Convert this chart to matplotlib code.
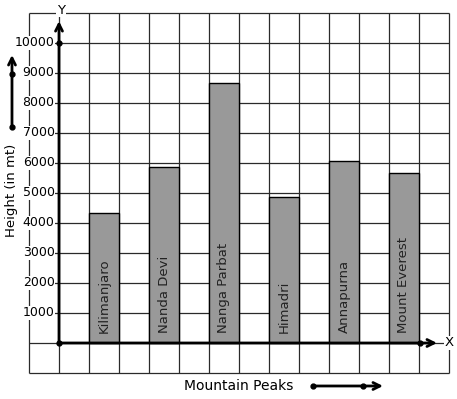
import matplotlib
matplotlib.use("Agg")
import matplotlib.pyplot as plt

# data
peaks = ["Kilimanjaro", "Nanda Devi", "Nanga Parbat", "Himadri", "Annapurna", "Mount Everest"]
heights = [4350, 5860, 8680, 4880, 6080, 5660]
y_ticks = [1000, 2000, 3000, 4000, 5000, 6000, 7000, 8000, 9000, 10000]

GRID = "#2a2a2a"
BAR = "#999999"

fig = plt.figure(figsize=(4.57, 3.99), dpi=100)
ax = fig.add_axes([0, 0, 1, 1])
# one grid cell = 30 px; y axis at px 59, x axis at px 343
ax.set_xlim(-59 / 30, (457 - 59) / 30)
ax.set_ylim((343 - 399) / 0.03, 343 / 0.03)
ax.axis("off")

# graph paper grid
ax.vlines(range(-1, 14), -1000, 11000, color=GRID, lw=0.9, zorder=1)
ax.hlines(range(-1000, 12000, 1000), -1, 13, color=GRID, lw=0.9, zorder=1)

# bars, one every other cell
xs = [1 + 2 * i for i in range(len(peaks))]
ax.bar(xs, heights, width=1, align="edge", color=BAR, edgecolor="black", lw=1, zorder=2)
for x, name in zip(xs, peaks):
    ax.text(x + 0.5, 330, name, rotation=90, ha="center", va="bottom",
            fontsize=9.5, color="#222222", zorder=3)

# tick labels with white background hiding the border line
for t in y_ticks:
    ax.text(-0.15, t, str(t), ha="right", va="center", fontsize=9, zorder=3,
            bbox=dict(facecolor="white", edgecolor="none", pad=0.3))

# axes with arrows
arrow = dict(arrowstyle="->,head_length=0.5,head_width=0.25", lw=2, color="black",
             shrinkA=0, shrinkB=0)
ax.annotate("", xy=(0, 10730), xytext=(0, 0), arrowprops=arrow, zorder=4)
ax.annotate("", xy=(12.6, 0), xytext=(0, 0), arrowprops=arrow, zorder=4)
ax.plot([0, 0, 12.03], [0, 10000, 0], "o", color="black", ms=3.5, zorder=5)
ax.text(0.07, 11100, "Y", ha="center", va="center", fontsize=9.5, zorder=3,
        bbox=dict(facecolor="white", edgecolor="none", pad=0.5))
ax.text(13, 0, "X", ha="center", va="center", fontsize=9.5, zorder=3,
        bbox=dict(facecolor="white", edgecolor="none", pad=0.5))

# axis titles with their side arrows
ax.text(-1.57, 5100, "Height (in mt)", rotation=90, ha="center", va="center", fontsize=9.5)
ax.annotate("", xy=(-1.567, 9600), xytext=(-1.567, 7200), arrowprops=arrow, annotation_clip=False)
ax.plot([-1.567, -1.567], [7200, 8970], "o", color="black", ms=3.5, clip_on=False)

ax.text(6.0, -1433, "Mountain Peaks", ha="center", va="center", fontsize=10)
ax.annotate("", xy=(10.8, -1433), xytext=(8.47, -1433), arrowprops=arrow, annotation_clip=False)
ax.plot([8.47, 10.13], [-1433, -1433], "o", color="black", ms=3.5, clip_on=False)

fig.savefig("out.png", dpi=100, facecolor="white")
